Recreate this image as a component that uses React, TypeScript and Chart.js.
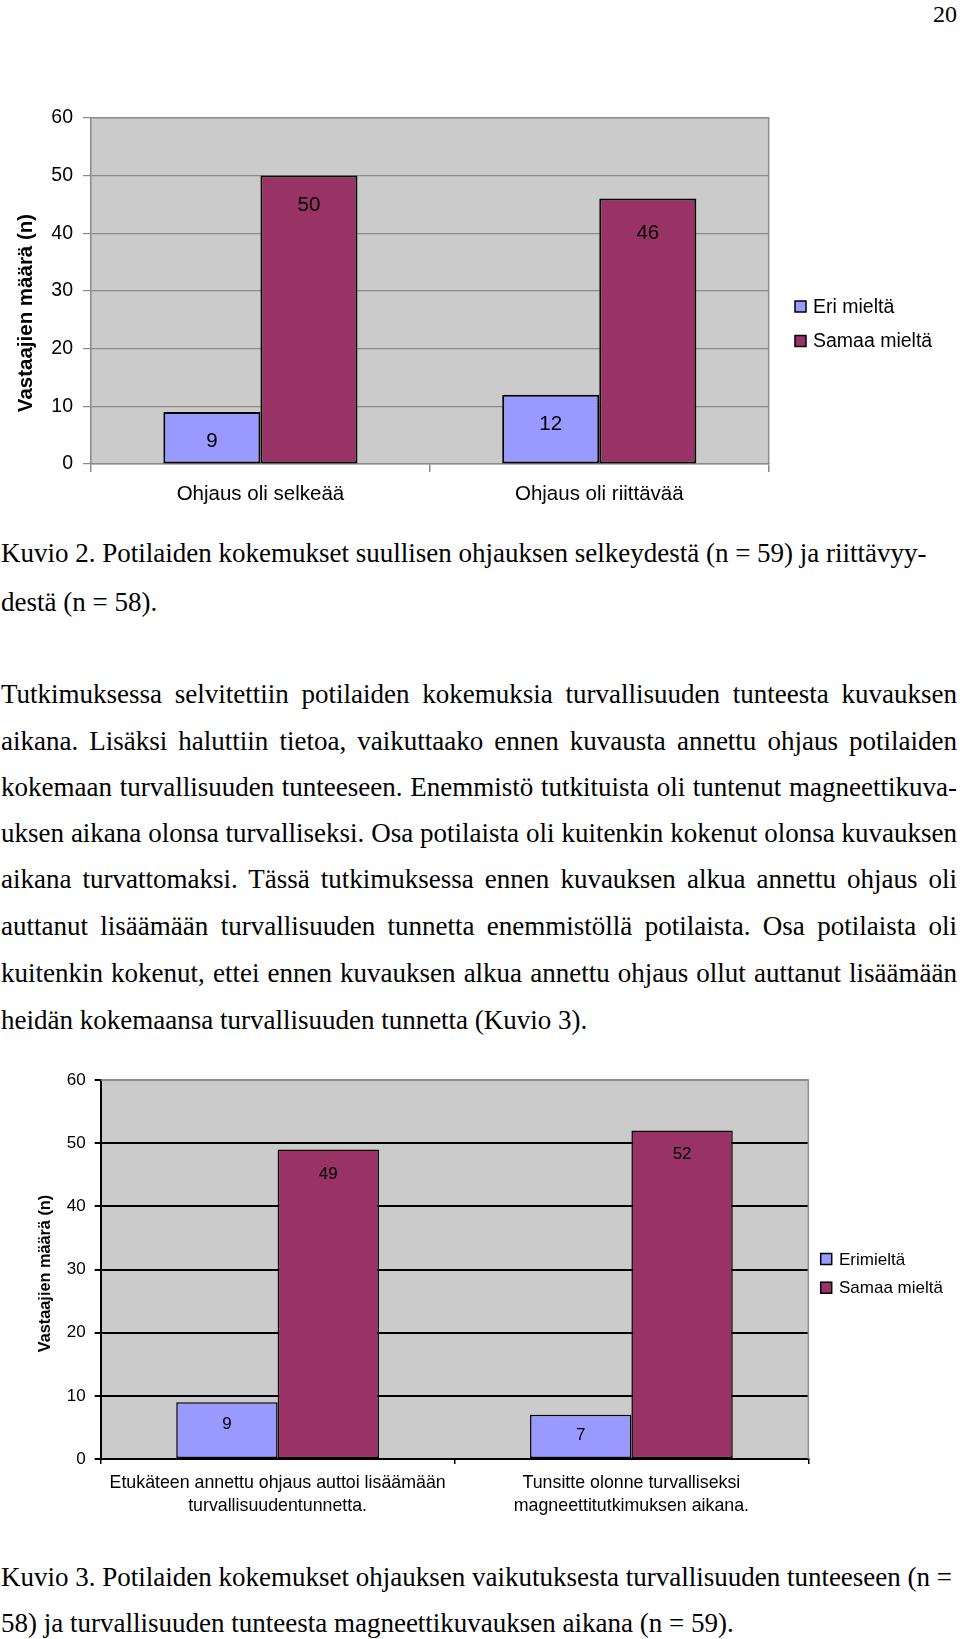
import React, { useEffect, useRef } from "react";
import { Chart, registerables } from "chart.js";

Chart.register(...registerables);

// ---------- DATA ----------
const chart1Categories = ["Ohjaus oli selkeää", "Ohjaus oli riittävää"];
const chart1Disagree = [9, 12];
const chart1Agree = [50, 46];
const chart1SeriesNames = ["Eri mieltä", "Samaa mieltä"];

const chart2Categories = [
  ["Etukäteen annettu ohjaus auttoi lisäämään", "turvallisuudentunnetta."],
  ["Tunsitte olonne turvalliseksi", "magneettitutkimuksen aikana."],
];
const chart2Disagree = [9, 7];
const chart2Agree = [49, 52];
const chart2SeriesNames = ["Erimieltä", "Samaa mieltä"];

const yAxisMin = 0;
const yAxisMax = 60;
const yAxisStep = 10;
const yAxisTitle = "Vastaajien määrä (n)";

const pageNumber = "20";
const caption2Lines = [
  "Kuvio 2. Potilaiden kokemukset suullisen ohjauksen selkeydestä (n = 59) ja riittävyy-",
  "destä (n = 58).",
];
const paragraphLines = [
  "Tutkimuksessa selvitettiin potilaiden kokemuksia turvallisuuden tunteesta kuvauksen",
  "aikana. Lisäksi haluttiin tietoa, vaikuttaako ennen kuvausta annettu ohjaus potilaiden",
  "kokemaan turvallisuuden tunteeseen. Enemmistö tutkituista oli tuntenut magneettikuva-",
  "uksen aikana olonsa turvalliseksi. Osa potilaista oli kuitenkin kokenut olonsa kuvauksen",
  "aikana turvattomaksi. Tässä tutkimuksessa ennen kuvauksen alkua annettu ohjaus oli",
  "auttanut lisäämään turvallisuuden tunnetta enemmistöllä potilaista. Osa potilaista oli",
  "kuitenkin kokenut, ettei ennen kuvauksen alkua annettu ohjaus ollut auttanut lisäämään",
  "heidän kokemaansa turvallisuuden tunnetta (Kuvio 3).",
];
const caption3Lines = [
  "Kuvio 3. Potilaiden kokemukset ohjauksen vaikutuksesta turvallisuuden tunteeseen (n =",
  "58) ja turvallisuuden tunteesta magneettikuvauksen aikana (n = 59).",
];

// ---------- STYLE ----------
const SANS = "'Liberation Sans', Arial, sans-serif";
const SERIF = "'Liberation Serif', 'Times New Roman', serif";
const COLOR_DISAGREE = "#9999FF";
const COLOR_AGREE = "#993366";
const PLOT_BG = "#CBCBCB";
const BODY_SIZE = 27;

type Spec = {
  canvasTop: number;
  canvasHeight: number;
  area: { left: number; right: number; top: number; bottom: number };
  categories: any[];
  disagree: number[];
  agree: number[];
  names: string[];
  tickSize: number;
  catSize: number;
  catLineHeight: number;
  yTickLength: number;
  yTickPadding: number;
  xTickLength: number;
  xTickPadding: number;
  gridColor: (v: number) => string;
  gridWidth: number;
  axisColor: string;
  axisWidth: number;
  frameColor: string;
  barBorder: number;
  labelSize: number;
  labelOffsets: number[][];
  legend: { squareX: number; size: number; textX: number; ys: number[]; fontSize: number };
  yTitle: { x: number; y: number; size: number };
};

const W = 960;

const plotPlugin = {
  id: "plotFrame",
  beforeDraw(chart: any, _a: any, opts: any) {
    const { ctx, chartArea: a } = chart;
    ctx.save();
    ctx.fillStyle = opts.fill;
    ctx.fillRect(a.left, a.top, a.right - a.left, a.bottom - a.top);
    ctx.restore();
  },
  afterDraw(chart: any, _a: any, opts: any) {
    const { ctx, chartArea: a } = chart;
    ctx.save();
    ctx.strokeStyle = opts.frame;
    ctx.lineWidth = 1.5;
    ctx.beginPath();
    ctx.moveTo(a.left, a.top);
    ctx.lineTo(a.right, a.top);
    ctx.lineTo(a.right, a.bottom);
    ctx.stroke();
    ctx.restore();
  },
};

const valueLabelPlugin = {
  id: "valueLabels",
  afterDatasetsDraw(chart: any, _a: any, opts: any) {
    const ctx = chart.ctx;
    ctx.save();
    ctx.font = `${opts.size}px ${SANS}`;
    ctx.fillStyle = opts.color;
    ctx.textAlign = "center";
    ctx.textBaseline = "middle";
    chart.data.datasets.forEach((ds: any, i: number) => {
      const meta = chart.getDatasetMeta(i);
      meta.data.forEach((el: any, j: number) => {
        ctx.fillText(String(ds.data[j]), el.x, el.y + opts.offsets[i][j]);
      });
    });
    ctx.restore();
  },
};

const legendPlugin = {
  id: "sideLegend",
  afterDraw(chart: any, _a: any, opts: any) {
    const ctx = chart.ctx;
    ctx.save();
    ctx.font = `${opts.fontSize}px ${SANS}`;
    ctx.textAlign = "left";
    ctx.textBaseline = "middle";
    chart.data.datasets.forEach((ds: any, i: number) => {
      const y = opts.ys[i];
      const s = opts.size;
      ctx.fillStyle = ds.backgroundColor;
      ctx.fillRect(opts.squareX, y - s / 2, s, s);
      ctx.strokeStyle = "#000";
      ctx.lineWidth = 1.5;
      ctx.strokeRect(opts.squareX, y - s / 2, s, s);
      ctx.fillStyle = "#000";
      ctx.fillText(ds.label, opts.textX, y + 1);
    });
    ctx.restore();
  },
};

const yTitlePlugin = {
  id: "yTitle",
  afterDraw(chart: any, _a: any, opts: any) {
    const ctx = chart.ctx;
    ctx.save();
    ctx.translate(opts.x, opts.y);
    ctx.rotate(-Math.PI / 2);
    ctx.font = `bold ${opts.size}px ${SANS}`;
    ctx.fillStyle = "#000";
    ctx.textAlign = "center";
    ctx.textBaseline = "middle";
    ctx.fillText(opts.text, 0, 0);
    ctx.restore();
  },
};

function BarChart({ spec }: { spec: Spec }) {
  const ref = useRef<HTMLCanvasElement | null>(null);
  useEffect(() => {
    if (!ref.current) return;
    const s = spec;
    const chart = new Chart(ref.current, {
      type: "bar",
      data: {
        labels: s.categories,
        datasets: [
          {
            label: s.names[0],
            data: s.disagree,
            backgroundColor: COLOR_DISAGREE,
            borderColor: "#000",
            borderWidth: s.barBorder,
            borderSkipped: false,
            categoryPercentage: 0.573,
            barPercentage: 1,
          },
          {
            label: s.names[1],
            data: s.agree,
            backgroundColor: COLOR_AGREE,
            borderColor: "#000",
            borderWidth: s.barBorder,
            borderSkipped: false,
            categoryPercentage: 0.573,
            barPercentage: 1,
          },
        ],
      },
      options: {
        responsive: false,
        animation: false,
        events: [],
        layout: {
          padding: { left: 0, top: s.area.top, right: W - s.area.right, bottom: 0 },
        },
        plugins: {
          legend: { display: false },
          tooltip: { enabled: false },
          plotFrame: { fill: PLOT_BG, frame: s.frameColor },
          valueLabels: { size: s.labelSize, offsets: s.labelOffsets, color: "#000" },
          sideLegend: s.legend,
          yTitle: { ...s.yTitle, text: yAxisTitle },
        } as any,
        scales: {
          x: {
            type: "category",
            offset: true,
            grid: {
              display: true,
              offset: true,
              drawOnChartArea: false,
              drawTicks: true,
              tickLength: s.xTickLength,
              color: s.axisColor,
              lineWidth: 1.5,
            },
            border: { display: true, color: s.axisColor, width: s.axisWidth },
            ticks: {
              color: "#000",
              font: { family: SANS, size: s.catSize, lineHeight: s.catLineHeight },
              padding: s.xTickPadding,
              maxRotation: 0,
              autoSkip: false,
            },
            afterFit: (sc: any) => {
              sc.height = s.canvasHeight - s.area.bottom;
            },
          },
          y: {
            min: yAxisMin,
            max: yAxisMax,
            ticks: {
              stepSize: yAxisStep,
              color: "#000",
              font: { family: SANS, size: s.tickSize },
              padding: s.yTickPadding,
            },
            grid: {
              color: (c: any) => s.gridColor(c.tick ? c.tick.value : 0),
              lineWidth: s.gridWidth,
              tickLength: s.yTickLength,
              tickColor: s.axisColor,
            },
            border: { display: true, color: s.axisColor, width: s.axisWidth },
            afterFit: (sc: any) => {
              sc.width = s.area.left;
            },
          },
        },
      } as any,
      plugins: [plotPlugin, valueLabelPlugin, legendPlugin, yTitlePlugin],
    });
    return () => chart.destroy();
  }, [spec]);
  return (
    <canvas
      ref={ref}
      width={W}
      height={spec.canvasHeight}
      style={{ position: "absolute", left: 0, top: spec.canvasTop, width: W, height: spec.canvasHeight }}
    />
  );
}

const spec1: Spec = {
  canvasTop: 80,
  canvasHeight: 440,
  area: { left: 91, right: 768.7, top: 37.7, bottom: 384 },
  categories: chart1Categories,
  disagree: chart1Disagree,
  agree: chart1Agree,
  names: chart1SeriesNames,
  tickSize: 19.5,
  catSize: 20.5,
  catLineHeight: 1.2,
  yTickLength: 8,
  yTickPadding: 10,
  xTickLength: 8,
  xTickPadding: 9.7,
  gridColor: () => "#8a8a8a",
  gridWidth: 1.2,
  axisColor: "#8a8a8a",
  axisWidth: 1.5,
  frameColor: "#8f8f8f",
  barBorder: 2,
  labelSize: 20.5,
  labelOffsets: [
    [29.5, 29.5],
    [30, 35],
  ],
  legend: { squareX: 795, size: 11, textX: 813, ys: [226.5, 261], fontSize: 19.5 },
  yTitle: { x: 26, y: 233, size: 20.5 },
};

const spec2: Spec = {
  canvasTop: 1040,
  canvasHeight: 500,
  area: { left: 100.7, right: 808.3, top: 40, bottom: 419 },
  categories: chart2Categories,
  disagree: chart2Disagree,
  agree: chart2Agree,
  names: chart2SeriesNames,
  tickSize: 17,
  catSize: 17.8,
  catLineHeight: 1.29,
  yTickLength: 6,
  yTickPadding: 9,
  xTickLength: 5,
  xTickPadding: 7.2,
  gridColor: (v: number) => (v === yAxisMax ? "#8f8f8f" : "#000"),
  gridWidth: 2,
  axisColor: "#000",
  axisWidth: 2,
  frameColor: "#8f8f8f",
  barBorder: 1.5,
  labelSize: 17,
  labelOffsets: [
    [22.5, 20.5],
    [24.5, 23.5],
  ],
  legend: { squareX: 820.7, size: 11, textX: 839, ys: [219, 247.7], fontSize: 17 },
  yTitle: { x: 45.8, y: 233.5, size: 16.3 },
};

function TextLine({
  text,
  baseline,
  justify = false,
  left = 1,
  width = 956,
  size = BODY_SIZE,
  align = "left",
}: {
  text: string;
  baseline: number;
  justify?: boolean;
  left?: number;
  width?: number;
  size?: number;
  align?: string;
}) {
  const LH = 32;
  const off = (LH - size * 1.107) / 2 + size * 0.891;
  return (
    <div
      style={{
        position: "absolute",
        left,
        width,
        top: baseline - off,
        height: LH,
        lineHeight: `${LH}px`,
        fontFamily: SERIF,
        fontSize: size,
        color: "#000",
        textAlign: (justify ? "justify" : align) as any,
        textAlignLast: (justify ? "justify" : align) as any,
        whiteSpace: "nowrap",
      }}
    >
      {text}
    </div>
  );
}

const paragraphBaselines = [703.2, 750.5, 796.5, 842.5, 888.5, 935.5, 982.5, 1028.8];

export default function App() {
  return (
    <div
      style={{
        position: "absolute",
        left: 0,
        top: 0,
        width: W,
        height: 1639,
        background: "#fff",
        overflow: "hidden",
      }}
    >
      <TextLine text={pageNumber} baseline={21.7} size={24} left={0} width={957} align="right" />
      <BarChart spec={spec1} />
      <TextLine text={caption2Lines[0]} baseline={562} />
      <TextLine text={caption2Lines[1]} baseline={611.5} />
      {paragraphLines.map((t, i) => (
        <TextLine key={i} text={t} baseline={paragraphBaselines[i]} justify={i < paragraphLines.length - 1} />
      ))}
      <BarChart spec={spec2} />
      <TextLine text={caption3Lines[0]} baseline={1586} />
      <TextLine text={caption3Lines[1]} baseline={1632} />
    </div>
  );
}
